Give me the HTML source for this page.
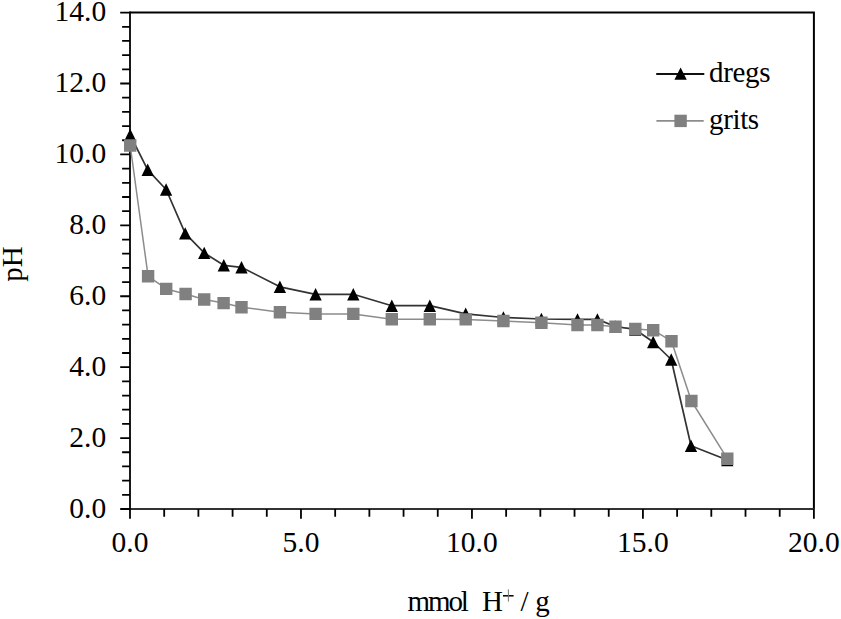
<!DOCTYPE html><html><head><meta charset="utf-8"><style>
html,body{margin:0;padding:0;background:#fff;width:841px;height:619px;overflow:hidden}
svg{display:block}
text{font-family:"Liberation Serif", serif;fill:#000}
</style></head><body>
<svg width="841" height="619" viewBox="0 0 841 619">
<rect width="841" height="619" fill="#fff"/>
<path d="M130.0 12.6H813.9V509.0" fill="none" stroke="#000" stroke-width="2"/>
<path d="M130.0 509.0H813.9" fill="none" stroke="#333" stroke-width="2"/>
<path d="M130.0 11.6V518.8" fill="none" stroke="#000" stroke-width="1.8"/>
<path d="M120.2 509.00H130.0M122.1 494.82H130.0M122.1 480.63H130.0M122.1 466.45H130.0M122.1 452.27H130.0M120.2 438.09H130.0M122.1 423.90H130.0M122.1 409.72H130.0M122.1 395.54H130.0M122.1 381.35H130.0M120.2 367.17H130.0M122.1 352.99H130.0M122.1 338.81H130.0M122.1 324.62H130.0M122.1 310.44H130.0M120.2 296.26H130.0M122.1 282.07H130.0M122.1 267.89H130.0M122.1 253.71H130.0M122.1 239.53H130.0M120.2 225.34H130.0M122.1 211.16H130.0M122.1 196.98H130.0M122.1 182.79H130.0M122.1 168.61H130.0M120.2 154.43H130.0M122.1 140.25H130.0M122.1 126.06H130.0M122.1 111.88H130.0M122.1 97.70H130.0M120.2 83.51H130.0M122.1 69.33H130.0M122.1 55.15H130.0M122.1 40.97H130.0M122.1 26.78H130.0M120.2 12.60H130.0" stroke="#000" stroke-width="1.8" fill="none"/>
<path d="M164.19 509.0V516.7M198.39 509.0V516.7M232.58 509.0V516.7M266.78 509.0V516.7M300.98 509.0V518.8M335.17 509.0V516.7M369.37 509.0V516.7M403.56 509.0V516.7M437.75 509.0V516.7M471.95 509.0V518.8M506.14 509.0V516.7M540.34 509.0V516.7M574.53 509.0V516.7M608.73 509.0V516.7M642.92 509.0V518.8M677.12 509.0V516.7M711.31 509.0V516.7M745.51 509.0V516.7M779.71 509.0V516.7M813.90 509.0V518.8" stroke="#000" stroke-width="1.8" fill="none"/>
<text x="106.2" y="517.5" font-size="29.5" text-anchor="end">0.0</text>
<text x="106.2" y="446.6" font-size="29.5" text-anchor="end">2.0</text>
<text x="106.2" y="375.7" font-size="29.5" text-anchor="end">4.0</text>
<text x="106.2" y="304.8" font-size="29.5" text-anchor="end">6.0</text>
<text x="106.2" y="233.8" font-size="29.5" text-anchor="end">8.0</text>
<text x="106.2" y="162.9" font-size="29.5" text-anchor="end">10.0</text>
<text x="106.2" y="92.0" font-size="29.5" text-anchor="end">12.0</text>
<text x="106.2" y="21.1" font-size="29.5" text-anchor="end">14.0</text>
<text x="130.0" y="551.8" font-size="29.5" text-anchor="middle">0.0</text>
<text x="301.0" y="551.8" font-size="29.5" text-anchor="middle">5.0</text>
<text x="471.9" y="551.8" font-size="29.5" text-anchor="middle">10.0</text>
<text x="642.9" y="551.8" font-size="29.5" text-anchor="middle">15.0</text>
<text x="813.9" y="551.8" font-size="29.5" text-anchor="middle">20.0</text>
<text y="611" font-size="29"><tspan x="407.5" letter-spacing="-2.1">mmol</tspan><tspan x="482">H</tspan><tspan x="520.6">/</tspan><tspan x="535.2">g</tspan></text>
<path d="M503 595.8H513.6" stroke="#000" stroke-width="1.5"/><path d="M508.4 589.4V601.6" stroke="#777" stroke-width="1"/>
<text transform="translate(22.3 281.8) rotate(-90)" font-size="29">pH</text>
<polyline points="130.2,145.5 148.1,276.2 166.2,288.9 185.6,294.0 204.2,299.5 223.6,303.1 241.5,307.2 279.9,312.2 315.6,313.9 353.3,313.9 391.8,319.3 429.8,319.3 465.7,319.4 503.4,321.0 541.4,322.7 577.5,325.0 597.4,325.0 615.5,326.7 635.3,329.0 653.2,330.2 671.5,341.2 691.4,401.0 727.3,458.7" fill="none" stroke="#8c8c8c" stroke-width="1.5" stroke-linejoin="round"/>
<polyline points="130.2,135.0 147.7,169.8 166.1,189.5 185.2,233.4 204.2,252.9 223.8,265.3 241.5,267.3 279.9,286.8 315.6,294.3 353.3,294.3 391.8,305.7 429.8,305.7 465.7,313.8 503.4,317.5 541.4,319.0 577.5,319.4 597.4,319.4 615.5,326.5 635.2,329.5 653.2,342.0 671.2,359.5 691.0,445.7 727.3,460.0" fill="none" stroke="#333" stroke-width="1.7" stroke-linejoin="round"/>
<path d="M130.20 128.80L136.35 141.20L124.05 141.20ZM147.70 163.60L153.85 176.00L141.55 176.00ZM166.10 183.30L172.25 195.70L159.95 195.70ZM185.20 227.20L191.35 239.60L179.05 239.60ZM204.20 246.70L210.35 259.10L198.05 259.10ZM223.80 259.10L229.95 271.50L217.65 271.50ZM241.50 261.10L247.65 273.50L235.35 273.50ZM279.90 280.60L286.05 293.00L273.75 293.00ZM315.60 288.10L321.75 300.50L309.45 300.50ZM353.30 288.10L359.45 300.50L347.15 300.50ZM391.80 299.50L397.95 311.90L385.65 311.90ZM429.80 299.50L435.95 311.90L423.65 311.90ZM465.70 307.60L471.85 320.00L459.55 320.00ZM503.40 311.30L509.55 323.70L497.25 323.70ZM541.40 312.80L547.55 325.20L535.25 325.20ZM577.50 313.20L583.65 325.60L571.35 325.60ZM597.40 313.20L603.55 325.60L591.25 325.60ZM615.50 320.30L621.65 332.70L609.35 332.70ZM635.20 323.30L641.35 335.70L629.05 335.70ZM653.20 335.80L659.35 348.20L647.05 348.20ZM671.20 353.30L677.35 365.70L665.05 365.70ZM691.00 439.50L697.15 451.90L684.85 451.90ZM727.30 453.80L733.45 466.20L721.15 466.20Z" fill="#000"/>
<path d="M124.00 139.30h12.40v12.40h-12.40ZM141.90 270.00h12.40v12.40h-12.40ZM160.00 282.70h12.40v12.40h-12.40ZM179.40 287.80h12.40v12.40h-12.40ZM198.00 293.30h12.40v12.40h-12.40ZM217.40 296.90h12.40v12.40h-12.40ZM235.30 301.00h12.40v12.40h-12.40ZM273.70 306.00h12.40v12.40h-12.40ZM309.40 307.70h12.40v12.40h-12.40ZM347.10 307.70h12.40v12.40h-12.40ZM385.60 313.10h12.40v12.40h-12.40ZM423.60 313.10h12.40v12.40h-12.40ZM459.50 313.20h12.40v12.40h-12.40ZM497.20 314.80h12.40v12.40h-12.40ZM535.20 316.50h12.40v12.40h-12.40ZM571.30 318.80h12.40v12.40h-12.40ZM591.20 318.80h12.40v12.40h-12.40ZM609.30 320.50h12.40v12.40h-12.40ZM629.10 322.80h12.40v12.40h-12.40ZM647.00 324.00h12.40v12.40h-12.40ZM665.30 335.00h12.40v12.40h-12.40ZM685.20 394.80h12.40v12.40h-12.40ZM721.10 452.50h12.40v12.40h-12.40Z" fill="#808080"/>
<path d="M656.2 74H704.3" stroke="#111" stroke-width="1.9"/>
<path d="M680.60 67.40L686.75 79.80L674.45 79.80Z" fill="#000"/>
<text x="709" y="82" font-size="29" letter-spacing="-0.35">dregs</text>
<path d="M656.4 120.9H703.7" stroke="#8c8c8c" stroke-width="1.7"/>
<path d="M674.40 114.70h12.40v12.40h-12.40Z" fill="#808080"/>
<text x="709" y="129" font-size="29" letter-spacing="-0.35">grits</text>
</svg></body></html>
